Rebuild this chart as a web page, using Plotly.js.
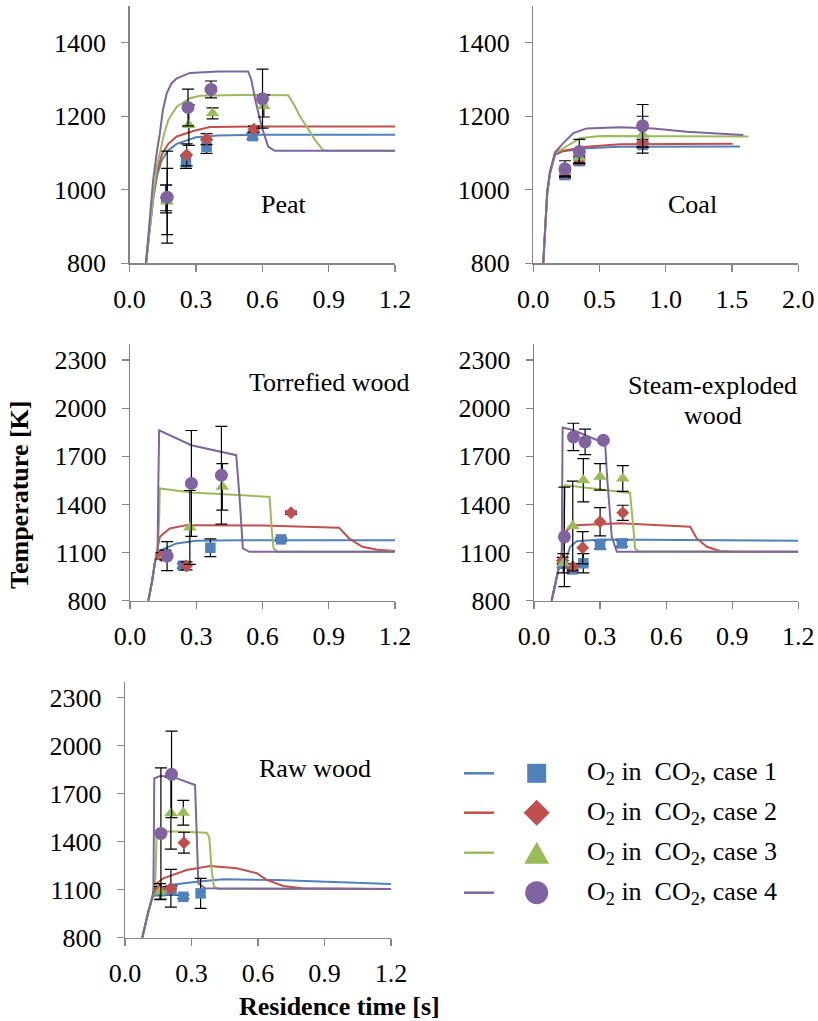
<!DOCTYPE html>
<html><head><meta charset="utf-8">
<script src="https://cdn.plot.ly/plotly-3.0.1.min.js"></script>
<style>html,body{margin:0;padding:0;background:#fff}#chart{width:818px;height:1021px}</style>
</head><body><div id="chart"></div>
<script>
// ---------------- DATA ----------------
const caseLabels = ["O<sub>2</sub> in\u00A0 CO<sub>2</sub>, case 1","O<sub>2</sub> in\u00A0 CO<sub>2</sub>, case 2","O<sub>2</sub> in\u00A0 CO<sub>2</sub>, case 3","O<sub>2</sub> in\u00A0 CO<sub>2</sub>, case 4"];
const panelNames = ["Peat","Coal","Torrefied wood","Steam-exploded wood","Raw wood"];
const yTickLabelsSmall = [800,1000,1200,1400];
const yTickLabelsLarge = [800,1100,1400,1700,2000,2300];

// Peat
const peatLineTime = [
 [0.074,0.09,0.107,0.125,0.145,0.175,0.213,0.30,0.40,0.6,1.2],
 [0.074,0.09,0.107,0.125,0.145,0.175,0.213,0.288,0.363,0.6,1.2],
 [0.074,0.09,0.107,0.122,0.137,0.155,0.175,0.213,0.273,0.318,0.5,0.717,0.745,0.77,0.80,0.838,0.875,0.9,1.2],
 [0.074,0.09,0.107,0.125,0.137,0.15,0.168,0.19,0.213,0.273,0.40,0.536,0.55,0.57,0.597,0.627,0.657,1.2]];
const peatLineTemp = [
 [800,880,975,1040,1080,1108,1125,1143,1148,1150,1150],
 [800,885,985,1050,1095,1125,1145,1160,1171,1172,1172],
 [800,890,990,1060,1100,1150,1190,1226,1249,1256,1258,1257,1230,1200,1172,1136,1108,1106,1106],
 [800,910,1030,1110,1154,1215,1263,1290,1303,1318,1322,1322,1300,1240,1172,1117,1106,1106]];
const peatPtTime = [[0.165,0.255,0.348,0.556],[0.165,0.258,0.348,0.562],[0.17,0.268,0.375,0.607],[0.17,0.264,0.368,0.601]];
const peatPtTemp = [[975,1075,1117,1146],[978,1095,1138,1165],[968,1176,1208,1228],[980,1224,1273,1248]];
const peatPtErr  = [[38,17,18,8],[35,30,15,8],[90,55,15,30],[125,50,23,80]];

// Coal
const coalLineTime = [
 [0.075,0.09,0.105,0.126,0.164,0.226,0.40,0.65,1.0,1.56],
 [0.075,0.09,0.105,0.126,0.164,0.226,0.403,0.654,1.0,1.505],
 [0.075,0.09,0.105,0.126,0.164,0.226,0.352,0.503,1.0,1.623],
 [0.075,0.09,0.105,0.126,0.164,0.226,0.302,0.403,0.654,0.905,1.158,1.585]];
const coalLineTemp = [
 [800,900,990,1045,1095,1105,1113,1117,1118,1118],
 [800,900,990,1045,1097,1106,1117,1124,1125,1125],
 [800,900,992,1048,1100,1113,1140,1146,1146,1145],
 [800,905,995,1050,1102,1127,1154,1167,1170,1167,1158,1149]];
const coalPtTime = [[0.239,0.347,0.825],[0.239,0.347,0.825],[0.239,0.347,0.825],[0.239,0.347,0.825]];
const coalPtTemp = [[1040,1078,1122],[1045,1082,1127],[1050,1088,1150],[1057,1104,1174]];
const coalPtErr  = [[10,10,8],[10,10,10],[12,15,50],[22,33,58]];

// Torrefied wood
const torrLineTime = [
 [0.083,0.1,0.113,0.125,0.143,0.21,0.30,0.5,1.2],
 [0.083,0.1,0.113,0.125,0.135,0.18,0.256,0.6,0.947,0.992,1.052,1.12,1.2],
 [0.083,0.1,0.113,0.125,0.132,0.135,0.278,0.45,0.632,0.642,0.65,0.669,1.2],
 [0.083,0.1,0.113,0.125,0.128,0.132,0.278,0.40,0.481,0.496,0.511,0.541,1.2]];
const torrLineTemp = [
 [800,920,1040,1100,1116,1157,1173,1177,1177],
 [800,920,1040,1130,1198,1250,1271,1268,1255,1188,1136,1118,1110],
 [800,920,1040,1120,1300,1500,1475,1460,1447,1240,1126,1105,1105],
 [800,920,1040,1110,1500,1862,1769,1730,1707,1447,1126,1105,1105]];
const torrPtTime = [[0.16,0.24,0.364,0.684],[0.143,0.256,0.729],[0.16,0.271,0.418],[0.168,0.278,0.414]];
const torrPtTemp = [[1085,1018,1130,1182],[1080,1017,1348],[1085,1257,1510],[1078,1531,1582]];
const torrPtErr  = [[20,15,55,10],[20,25,10],[30,230,145],[90,330,305]];

// Steam-exploded wood
const steamLineTime = [
 [0.08,0.095,0.11,0.126,0.149,0.164,0.194,0.30,0.6,1.2],
 [0.08,0.095,0.11,0.126,0.135,0.15,0.186,0.391,0.709,0.739,0.785,0.845,0.9,1.2],
 [0.08,0.095,0.11,0.126,0.135,0.141,0.17,0.315,0.436,0.452,0.459,0.474,1.2],
 [0.08,0.095,0.11,0.126,0.128,0.130,0.18,0.323,0.333,0.353,0.376,1.2]];
const steamLineTemp = [
 [800,890,990,1050,1074,1136,1170,1182,1180,1173],
 [800,890,990,1095,1150,1240,1271,1282,1261,1188,1136,1110,1105,1105],
 [800,890,990,1095,1300,1520,1515,1493,1472,1240,1126,1108,1105],
 [800,890,990,1095,1500,1879,1862,1780,1551,1198,1105,1105]];
const steamPtTime = [[0.13,0.174,0.224,0.30,0.399],[0.13,0.176,0.221,0.30,0.403],[0.133,0.176,0.224,0.30,0.403],[0.138,0.179,0.232,0.315]];
const steamPtTemp = [[1030,995,1033,1147,1157],[1050,1012,1130,1292,1348],[1033,1265,1551,1572,1562],[1198,1821,1790,1800]];
const steamPtErr  = [[20,20,60,25,20],[20,20,100,88,47],[60,280,135,83,80],[310,85,80,0]];

// Raw wood
const rawLineTime = [
 [0.078,0.09,0.105,0.12,0.14,0.158,0.203,0.323,0.443,0.684,1.2],
 [0.078,0.09,0.105,0.12,0.13,0.143,0.173,0.278,0.383,0.504,0.594,0.639,0.714,0.8,1.2],
 [0.078,0.09,0.105,0.12,0.135,0.14,0.143,0.203,0.368,0.38,0.391,0.401,0.42,1.2],
 [0.078,0.09,0.105,0.12,0.128,0.13,0.132,0.158,0.21,0.316,0.323,0.331,0.361,1.2]];
const rawLineTemp = [
 [800,880,960,1036,1080,1098,1129,1150,1165,1161,1136],
 [800,880,960,1036,1100,1140,1171,1223,1248,1234,1203,1161,1123,1109,1105],
 [800,880,960,1036,1080,1300,1456,1466,1456,1431,1223,1119,1105,1105],
 [800,880,960,1036,1080,1400,1796,1810,1808,1754,1431,1140,1109,1105]];
const rawPtTime = [[0.158,0.21,0.263,0.341],[0.158,0.207,0.266],[0.158,0.207,0.263],[0.162,0.21]];
const rawPtTemp = [[1090,1094,1056,1077],[1100,1109,1394],[1088,1578,1581],[1452,1821]];
const rawPtErr  = [[20,30,12,94],[20,118,65],[50,224,77],[410,270]];

// ---------------- STYLE ----------------
const FONT = "'Liberation Serif', 'Times New Roman', serif";
const colors = ["#4F81BD","#C0504D","#9BBB59","#8064A2"];
const symbols = ["square","diamond","triangle-up","circle"];
const msizes = [10.5,10,12,13];
const W = 818, H = 1021;
const px = x => x / W, py = y => 1 - y / H;

function draw() {
  const panels = [
    {lt:peatLineTime, lT:peatLineTemp, pt:peatPtTime, pT:peatPtTemp, pe:peatPtErr, xa:"x", ya:"y"},
    {lt:coalLineTime, lT:coalLineTemp, pt:coalPtTime, pT:coalPtTemp, pe:coalPtErr, xa:"x2", ya:"y2"},
    {lt:torrLineTime, lT:torrLineTemp, pt:torrPtTime, pT:torrPtTemp, pe:torrPtErr, xa:"x3", ya:"y3"},
    {lt:steamLineTime, lT:steamLineTemp, pt:steamPtTime, pT:steamPtTemp, pe:steamPtErr, xa:"x4", ya:"y4"},
    {lt:rawLineTime, lT:rawLineTemp, pt:rawPtTime, pT:rawPtTemp, pe:rawPtErr, xa:"x5", ya:"y5"}
  ];

  const traces = [];
  panels.forEach(p => {
    for (let i = 0; i < 4; i++) {
      traces.push({x:p.lt[i], y:p.lT[i], mode:"lines", xaxis:p.xa, yaxis:p.ya,
        line:{color:colors[i], width:2}, showlegend:false, hoverinfo:"skip"});
    }
    for (let i = 0; i < 4; i++) {
      traces.push({x:p.pt[i], y:p.pT[i], mode:"markers", xaxis:p.xa, yaxis:p.ya,
        marker:{symbol:symbols[i], size:msizes[i], color:colors[i], line:{width:0}},
        error_y:{type:"data", array:p.pe[i], visible:true, color:"#000", thickness:1.2, width:6},
        showlegend:false, hoverinfo:"skip", cliponaxis:false});
    }
  });

  const tf = () => ({family:FONT, size:26, color:"#000"});
  function xax(d0, d1, anchor, range, dtick) {
    return {domain:[px(d0), px(d1)], anchor:anchor, range:range, tick0:0, dtick:dtick, tickformat:".1f",
      showline:true, linecolor:"#868686", linewidth:1.3, ticks:"outside", ticklen:7, tickwidth:1.3,
      tickcolor:"#868686", showgrid:false, zeroline:false, ticklabelstandoff:5,
      tickfont:tf(), fixedrange:true};
  }
  function yax(top, bottom, anchor, range, vals) {
    return {domain:[py(bottom), py(top)], anchor:anchor, range:range, tickmode:"array", tickvals:vals,
      ticktext:vals.map(String),
      showline:true, linecolor:"#868686", linewidth:1.3, ticks:"outside", ticklen:7, tickwidth:1.3,
      tickcolor:"#868686", showgrid:false, zeroline:false, ticklabelstandoff:10,
      tickfont:tf(), fixedrange:true};
  }

  const annotations = [
    {text:panelNames[0], x:px(284), y:py(205)},
    {text:panelNames[1], x:px(692.5), y:py(205)},
    {text:panelNames[2], x:px(329), y:py(382)},
    {text:"Steam-exploded", x:px(712), y:py(385)},
    {text:"wood", x:px(712.5), y:py(415)},
    {text:panelNames[4], x:px(315), y:py(768)},
    {text:"<b>Temperature [K]</b>", x:px(20), y:py(495), textangle:-90},
    {text:"<b>Residence time [s]</b>", x:px(339), y:py(1006)}
  ].map(a => Object.assign({xref:"paper", yref:"paper", showarrow:false, xanchor:"center", yanchor:"middle", font:tf()}, a));

  // legend (drawn manually, Excel style)
  const legRows = [773.3, 812.7, 852.7, 892.7];
  const shapes = [];
  legRows.forEach((ry, i) => {
    shapes.push({type:"line", xref:"paper", yref:"paper", x0:px(464), x1:px(494), y0:py(ry), y1:py(ry),
      line:{color:colors[i], width:2.5}});
    const cx = 536.7;
    let path;
    if (i === 0) {
      shapes.push({type:"rect", xref:"paper", yref:"paper", x0:px(cx-9.5), x1:px(cx+9.5), y0:py(ry+9.5), y1:py(ry-9.5),
        fillcolor:colors[i], line:{width:0}});
    } else if (i === 1) {
      path = `M ${px(cx)} ${py(ry-13)} L ${px(cx+13)} ${py(ry)} L ${px(cx)} ${py(ry+13)} L ${px(cx-13)} ${py(ry)} Z`;
      shapes.push({type:"path", xref:"paper", yref:"paper", path:path, fillcolor:colors[i], line:{width:0}});
    } else if (i === 2) {
      path = `M ${px(cx)} ${py(ry-11)} L ${px(cx+12.5)} ${py(ry+11)} L ${px(cx-12.5)} ${py(ry+11)} Z`;
      shapes.push({type:"path", xref:"paper", yref:"paper", path:path, fillcolor:colors[i], line:{width:0}});
    } else {
      shapes.push({type:"circle", xref:"paper", yref:"paper", x0:px(cx-11.5), x1:px(cx+11.5), y0:py(ry+11.5), y1:py(ry-11.5),
        fillcolor:colors[i], line:{width:0}});
    }
    annotations.push({text:caseLabels[i], xref:"paper", yref:"paper", x:px(585), y:py(ry), xanchor:"left", yanchor:"middle",
      showarrow:false, font:tf()});
  });

  const layout = {
    width:W, height:H, margin:{l:0, r:0, t:0, b:0}, paper_bgcolor:"#fff", plot_bgcolor:"rgba(0,0,0,0)",
    showlegend:false, font:tf(),
    xaxis:  xax(129.6, 395,   "y",  [0,1.2], 0.3),
    yaxis:  yax(6, 263.3,     "x",  [800,1500], yTickLabelsSmall),
    xaxis2: xax(533.3, 798.3, "y2", [0,2.0], 0.5),
    yaxis2: yax(6, 263.3,     "x2", [800,1500], yTickLabelsSmall),
    xaxis3: xax(130, 395,     "y3", [0,1.2], 0.3),
    yaxis3: yax(344, 600.7,   "x3", [800,2400], yTickLabelsLarge),
    xaxis4: xax(534, 798.3,   "y4", [0,1.2], 0.3),
    yaxis4: yax(344, 600.7,   "x4", [800,2400], yTickLabelsLarge),
    xaxis5: xax(125, 391,     "y5", [0,1.2], 0.3),
    yaxis5: yax(681.7, 937.7, "x5", [800,2400], yTickLabelsLarge),
    annotations:annotations, shapes:shapes
  };

  Plotly.newPlot("chart", traces, layout, {staticPlot:true, displayModeBar:false});
}

Promise.all([
  document.fonts.load("26px 'Liberation Serif'"),
  document.fonts.load("bold 26px 'Liberation Serif'")
]).then(draw, draw);
</script></body></html>
